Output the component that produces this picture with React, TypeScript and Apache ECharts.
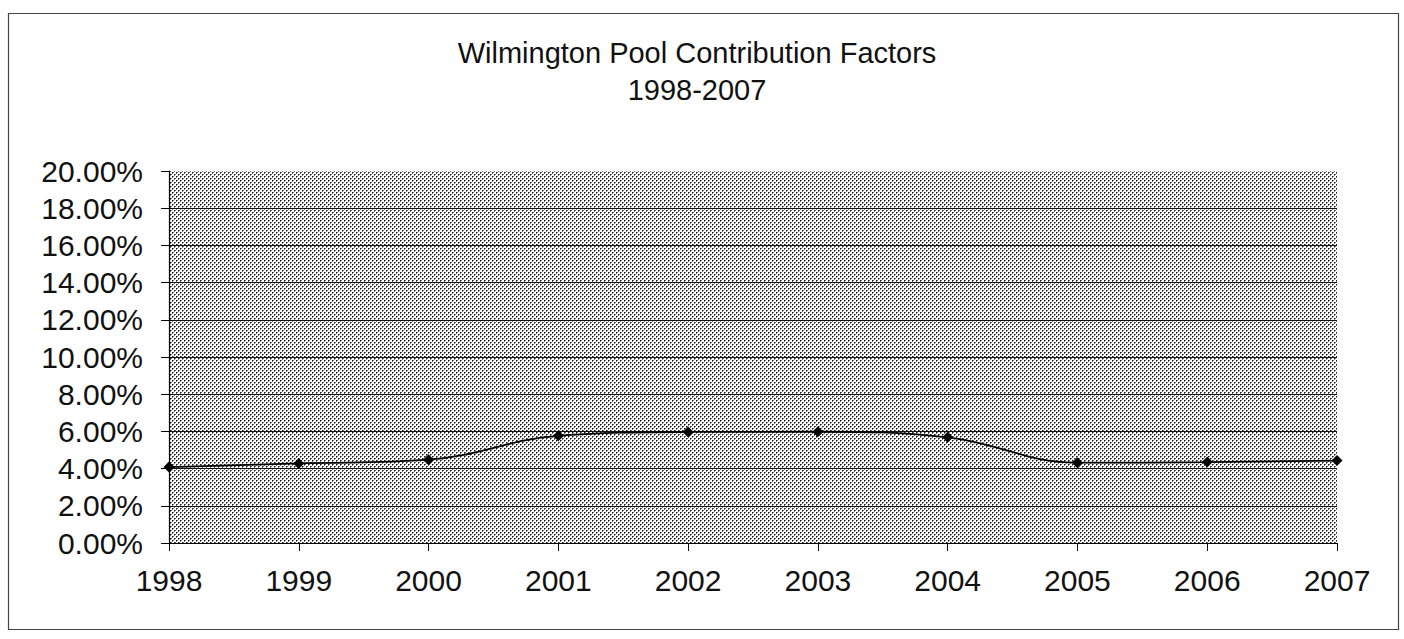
import React, { useEffect, useRef } from "react";
import * as echarts from "echarts";

const titleLines = ["Wilmington Pool Contribution Factors", "1998-2007"];
const years = ["1998", "1999", "2000", "2001", "2002", "2003", "2004", "2005", "2006", "2007"];
const contribution = [4.08, 4.28, 4.48, 5.76, 5.97, 5.98, 5.68, 4.32, 4.35, 4.43];
const yTicks = { min: 0, max: 20, interval: 2 };

function makePattern(): string {
  const c = document.createElement("canvas");
  c.width = 4;
  c.height = 4;
  const ctx = c.getContext("2d")!;
  ctx.fillStyle = "#ffffff";
  ctx.fillRect(0, 0, 4, 4);
  const dark = "#1a1a1a";
  const mid = "#707070";
  const px = (x: number, y: number, col: string) => {
    ctx.fillStyle = col;
    ctx.fillRect(x, y, 1, 1);
  };
  px(0, 0, dark);
  px(1, 0, mid);
  px(0, 1, mid);
  px(2, 2, dark);
  px(3, 2, mid);
  px(2, 3, mid);
  return c.toDataURL();
}

export default function App() {
  const ref = useRef<HTMLDivElement>(null);
  useEffect(() => {
    document.body.style.margin = "0";
    if (!ref.current) return;
    const chart = echarts.init(ref.current, null, { renderer: "svg" });
    const font = "'Liberation Sans', Arial, sans-serif";
    chart.setOption({
      animation: false,
      backgroundColor: "#ffffff",
      title: {
        text: titleLines.join("\n"),
        left: 697,
        textAlign: "center",
        top: 34,
        padding: 0,
        textStyle: {
          fontFamily: font,
          fontSize: 29,
          fontWeight: "normal",
          color: "#111",
          lineHeight: 37,
        },
      },
      graphic: [
        {
          type: "rect",
          shape: { x: 8.5, y: 13.5, width: 1390, height: 616 },
          style: { fill: "none", stroke: "#444", lineWidth: 1.2 },
          z: 100,
        },
      ],
      grid: {
        left: 169,
        right: 1404 - 1337,
        top: 171,
        bottom: 639 - 543,
        show: true,
        borderWidth: 0,
        backgroundColor: { image: makePattern(), repeat: "repeat" },
      },
      xAxis: {
        type: "category",
        data: years,
        boundaryGap: false,
        axisLine: { show: true, lineStyle: { color: "#000", width: 1.2 } },
        axisTick: { show: true, length: 8, alignWithLabel: true, lineStyle: { color: "#000" } },
        axisLabel: { fontFamily: font, fontSize: 30, color: "#111", margin: 22 },
        splitLine: { show: false },
      },
      yAxis: {
        type: "value",
        min: yTicks.min,
        max: yTicks.max,
        interval: yTicks.interval,
        axisLine: { show: true, lineStyle: { color: "#000", width: 1.2 } },
        axisTick: { show: true, length: 8, lineStyle: { color: "#000" } },
        axisLabel: {
          fontFamily: font,
          fontSize: 30,
          color: "#111",
          margin: 26,
          formatter: (v: number) => v.toFixed(2) + "%",
        },
        splitLine: { show: true, showMaxLine: false, lineStyle: { color: "#111", width: 1 } },
      },
      series: [
        {
          type: "line",
          data: contribution,
          smooth: 0.4,
          symbol: "diamond",
          symbolSize: 11,
          itemStyle: { color: "#000" },
          lineStyle: { color: "#000", width: 1.8 },
        },
      ],
    });
    return () => chart.dispose();
  }, []);
  return <div ref={ref} style={{ width: 1404, height: 639 }} />;
}
